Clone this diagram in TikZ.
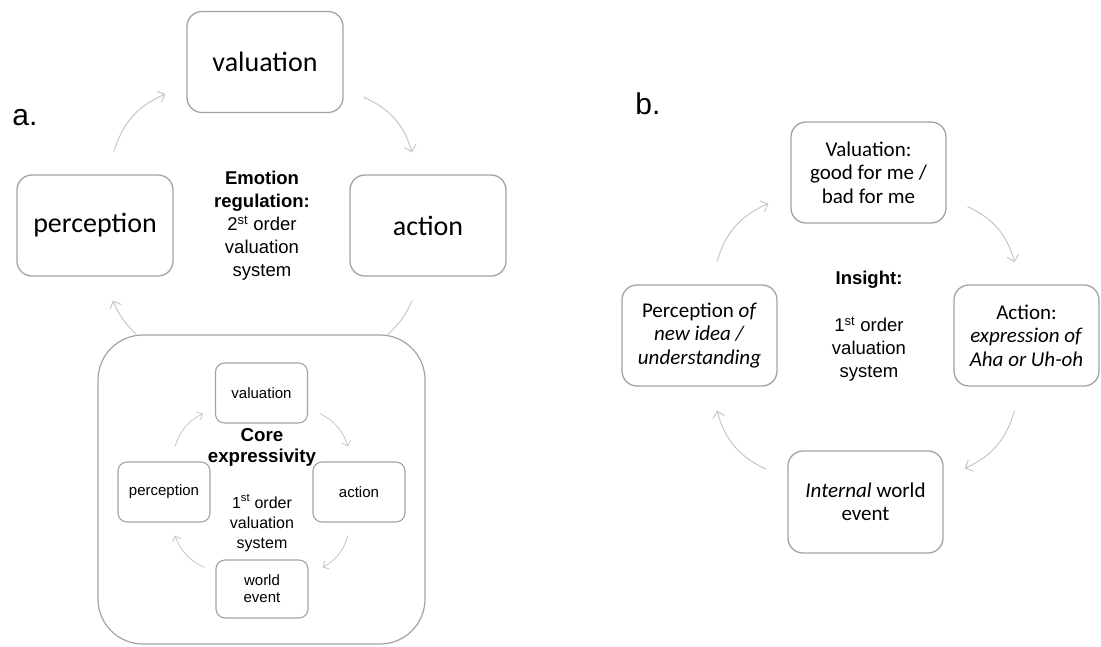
\documentclass[tikz,border=0pt]{standalone}
\usepackage{fontspec}
\setmainfont{Carlito}
\newfontfamily\arialf{Liberation Sans}
\usetikzlibrary{arrows.meta}
\definecolor{boxgray}{HTML}{A3A3A3}
\definecolor{arrgray}{HTML}{C6C6C6}
\begin{document}
\begin{tikzpicture}[x=1pt,y=1pt,
  bigbox/.style={draw=boxgray, line width=1.3pt, rounded corners=15pt, inner sep=0pt, align=center,
     minimum width=156pt, minimum height=101pt, font={\fontsize{28}{30}\selectfont}},
  bbox/.style={draw=boxgray, line width=1.3pt, rounded corners=15pt, inner sep=0pt, align=center,
     minimum width=155pt, minimum height=101pt, font={\fontsize{21}{23.5}\selectfont}},
  smallbox/.style={draw=boxgray, line width=1.1pt, rounded corners=9pt, inner sep=0pt, align=center,
     minimum width=92pt, minimum height=60pt, font={\arialf\fontsize{15}{17}\selectfont}},
  container/.style={draw=boxgray, line width=1.2pt, rounded corners=45pt, inner sep=0pt,
     minimum width=327pt, minimum height=309pt},
  midtext/.style={align=center, inner sep=0pt, font={\arialf\fontsize{18.5}{23}\selectfont}},
  coretext/.style={align=center, inner sep=0pt, font={\arialf\bfseries\fontsize{18.7}{21}\selectfont}},
  innertext/.style={align=center, inner sep=0pt, font={\arialf\fontsize{16}{20}\selectfont}},
  panellabel/.style={inner sep=0pt, font={\arialf\fontsize{30}{32}\selectfont}},
  arr/.style={draw=arrgray, line width=1pt, -{Straight Barb[length=6pt,width=12pt]}},
  sarr/.style={draw=arrgray, line width=0.8pt, -{Straight Barb[length=4.5pt,width=9pt]}},
  plain/.style={draw=arrgray, line width=1pt}
]
\useasboundingbox (0,0) rectangle (1101,-646);

% ---------- panel a ----------
\node[panellabel] (la) at (25,-118) {a.};
\node[bigbox] (aval) at (265,-62) {valuation};
\node[bigbox] (aperc) at (95,-225.5) {perception};
\node[bigbox] (aact) at (428,-225.5) {action};
\node[midtext] (aemo) at (262,-226) {\textbf{Emotion}\\ \textbf{regulation:}\\ 2\textsuperscript{st} order\\ valuation\\ system};
\node[container] (abig) at (261.5,-489.5) {};

\node[smallbox] (ival) at (261.5,-393) {valuation};
\node[smallbox] (iperc) at (164,-492) {perception};
\node[smallbox] (iact) at (359,-492) {action};
\node[smallbox, minimum height=58pt] (iworld) at (262,-589) {world\\ event};
\node[coretext] (icore) at (262,-447.5) {Core\\ expressivity};
\node[innertext] (ifirst) at (262,-523) {1\textsuperscript{st} order\\ valuation\\ system};

\draw[arr] ([xshift=19pt,yshift=23pt]aperc.north) to[bend left=25] ([xshift=-21pt,yshift=19pt]aval.south west);
\draw[arr] ([xshift=20pt,yshift=16pt]aval.south east) to[bend left=25] ([xshift=-16pt,yshift=22pt]aact.north);
\draw[arr] ([xshift=39pt]abig.north west) to[bend left=12] ([xshift=18pt,yshift=-24pt]aperc.south);
\draw[plain] ([xshift=-16pt,yshift=-24pt]aact.south) to[bend left=12] ([xshift=-38pt]abig.north east);

\draw[sarr] ([xshift=11pt,yshift=15pt]iperc.north) to[bend left=22] ([xshift=-12pt,yshift=10pt]ival.south west);
\draw[sarr] ([xshift=12pt,yshift=10pt]ival.south east) to[bend left=22] ([xshift=-11pt,yshift=15pt]iact.north);
\draw[sarr] ([xshift=-11pt,yshift=-13pt]iact.south) to[bend left=22] ([xshift=14pt,yshift=-8pt]iworld.north east);
\draw[sarr] ([xshift=-11pt,yshift=-8pt]iworld.north west) to[bend left=22] ([xshift=11pt,yshift=-13pt]iperc.south);

% ---------- panel b ----------
\node[panellabel] (lb) at (648,-104) {b.};
\node[bbox] (bval) at (868.5,-172.5) {Valuation:\\ good for me /\\ bad for me};
\node[bbox] (bperc) at (699.5,-335.5) {Perception \textit{of}\\ \textit{new idea /}\\ \textit{understanding}};
\node[bbox, minimum width=145pt] (bact) at (1026.5,-335.5) {Action:\\ \textit{expression of}\\ \textit{Aha or Uh-oh}};
\node[bbox, minimum height=102pt] (bworld) at (865.5,-502) {\textit{Internal} world\\ event};
\node[midtext] (bins) at (869,-280) {\textbf{Insight:}};
\node[midtext] (bfirst) at (869,-349) {1\textsuperscript{st} order\\ valuation\\ system};

\draw[arr] ([xshift=17.5pt,yshift=23pt]bperc.north) to[bend left=25] ([xshift=-22pt,yshift=20pt]bval.south west);
\draw[arr] ([xshift=21pt,yshift=17pt]bval.south east) to[bend left=25] ([xshift=-12pt,yshift=22pt]bact.north);
\draw[arr] ([xshift=-12pt,yshift=-24pt]bact.south) to[bend left=25] ([xshift=21pt,yshift=-18pt]bworld.north east);
\draw[arr] ([xshift=-21pt,yshift=-19pt]bworld.north west) to[bend left=25] ([xshift=17.5pt,yshift=-24pt]bperc.south);
\end{tikzpicture}
\end{document}
